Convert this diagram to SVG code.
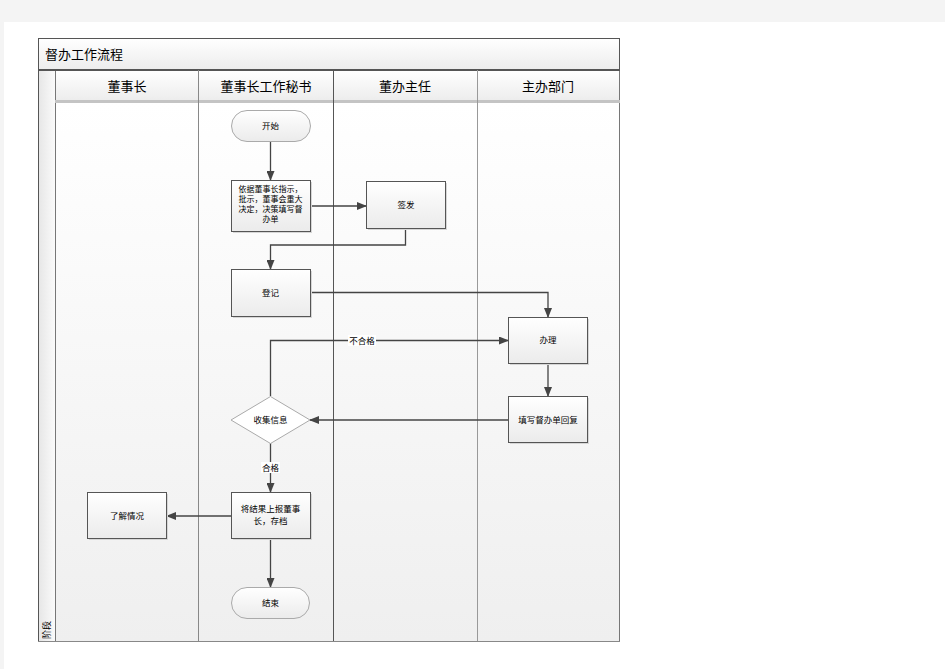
<svg xmlns="http://www.w3.org/2000/svg" width="945" height="669" viewBox="0 0 945 669">
<defs>
<linearGradient id="gLane" x1="0" y1="0" x2="0" y2="1"><stop offset="0" stop-color="#ffffff"/><stop offset="1" stop-color="#efefef"/></linearGradient>
<linearGradient id="gHead" x1="0" y1="0" x2="0" y2="1"><stop offset="0" stop-color="#ffffff"/><stop offset="1" stop-color="#ececec"/></linearGradient>
<linearGradient id="gStrip" x1="0" y1="0" x2="1" y2="0"><stop offset="0" stop-color="#e6e6e6"/><stop offset="1" stop-color="#fbfbfb"/></linearGradient>
<linearGradient id="gNode" x1="0" y1="0" x2="0" y2="1"><stop offset="0" stop-color="#ffffff"/><stop offset="1" stop-color="#ebebeb"/></linearGradient>
<marker id="arr" markerWidth="10" markerHeight="8" refX="9" refY="4" orient="auto" markerUnits="userSpaceOnUse"><path d="M0,0 L10,4 L0,8 Z" fill="#444"/></marker>
</defs>
<style>
text{font-family:"Noto Sans CJK SC","Liberation Sans",sans-serif;fill:#000}
.h{font-size:13px;text-anchor:middle}
.t{font-size:8.5px;text-anchor:middle}
.t2{font-size:8px;text-anchor:middle}
.n{fill:url(#gNode);stroke:#555;stroke-width:1}
.term{fill:url(#gNode);stroke:#aaa;stroke-width:1}
.sh{fill:#d6d6d6}
.c{fill:none;stroke:#444;stroke-width:1.3;marker-end:url(#arr)}
.lab{font-size:8.5px;text-anchor:middle}
</style>
<rect x="0" y="0" width="945" height="669" fill="#f4f4f4"/>
<rect x="4" y="22" width="941" height="647" fill="#ffffff"/>
<g id="pool">
<rect x="38.5" y="38.5" width="581" height="32" fill="url(#gHead)" stroke="#555"/>
<text x="45" y="59" style="font-size:13px">督办工作流程</text>
<rect x="38.5" y="70.5" width="17" height="571" fill="url(#gStrip)" stroke="#555"/>
<rect x="55.5" y="70.5" width="564" height="31" fill="url(#gHead)" stroke="#777"/>
<rect x="55.5" y="102.5" width="564" height="539" fill="url(#gLane)" stroke="#777"/>
<line x1="38" y1="70" x2="620" y2="70" stroke="#555" stroke-width="2"/>
<line x1="55" y1="101.5" x2="620" y2="101.5" stroke="#c4c4c4" stroke-width="3"/>
<line x1="198.5" y1="70" x2="198.5" y2="642" stroke="#888"/>
<line x1="333.5" y1="70" x2="333.5" y2="642" stroke="#555"/>
<line x1="477.5" y1="70" x2="477.5" y2="642" stroke="#999"/>
<line x1="38" y1="641.5" x2="620" y2="641.5" stroke="#888"/>
<text class="h" x="127" y="91">董事长</text>
<text class="h" x="266" y="91">董事长工作秘书</text>
<text class="h" x="405" y="91">董办主任</text>
<text class="h" x="548" y="91">主办部门</text>
<text transform="translate(50,639) rotate(-90)" style="font-size:9px">阶段</text>
</g>
<g id="connectors">
<line class="c" x1="270.5" y1="142" x2="270.5" y2="180"/>
<line class="c" x1="311" y1="206" x2="366" y2="206"/>
<polyline class="c" points="405.5,229 405.5,245 270.5,245 270.5,269"/>
<polyline class="c" points="311,292.5 548,292.5 548,317"/>
<line class="c" x1="548" y1="364" x2="548" y2="396"/>
<line class="c" x1="508" y1="420" x2="310" y2="420"/>
<polyline class="c" points="270.5,396 270.5,340.5 508,340.5"/>
<line class="c" x1="270.5" y1="443" x2="270.5" y2="492"/>
<line class="c" x1="231" y1="516" x2="167" y2="516"/>
<line class="c" x1="270.5" y1="539" x2="270.5" y2="587"/>
<rect x="348" y="335" width="28" height="11" fill="#ffffff"/>
<text class="lab" x="362" y="344">不合格</text>
<rect x="261" y="462" width="19" height="11" fill="#ffffff"/>
<text class="lab" x="270.5" y="471">合格</text>
</g>
<g id="n_start"><rect class="term" x="231.5" y="110.5" width="79" height="31" rx="15.5"/><text class="t" x="270.5" y="129">开始</text></g>
<g id="n_fill"><rect class="sh" x="233" y="182" width="79" height="51"/><rect class="n" x="231.5" y="180.5" width="79" height="51"/>
<text class="t2" x="270.5" y="191.5">依据董事长指示，</text><text class="t2" x="270.5" y="201.5">批示，董事会重大</text><text class="t2" x="270.5" y="211.5">决定，决策填写督</text><text class="t2" x="270.5" y="221.5">办单</text></g>
<g id="n_sign"><rect class="sh" x="368" y="183" width="79" height="47"/><rect class="n" x="366.5" y="181.5" width="79" height="47"/><text class="t" x="406" y="208">签发</text></g>
<g id="n_reg"><rect class="sh" x="233" y="271" width="79" height="47"/><rect class="n" x="231.5" y="269.5" width="79" height="47"/><text class="t" x="270.5" y="296">登记</text></g>
<g id="n_do"><rect class="sh" x="510" y="319" width="79" height="46"/><rect class="n" x="508.5" y="317.5" width="79" height="46"/><text class="t" x="548" y="343">办理</text></g>
<g id="n_reply"><rect class="sh" x="510" y="398" width="79" height="46"/><rect class="n" x="508.5" y="396.5" width="79" height="46"/><text class="t" x="548" y="423">填写督办单回复</text></g>
<g id="n_collect"><polygon points="270.5,396.5 310,420 270.5,443.5 231,420" fill="#ffffff" stroke="#aaa"/><text class="t" x="270.5" y="423">收集信息</text></g>
<g id="n_report"><rect class="sh" x="233" y="494" width="79" height="46"/><rect class="n" x="231.5" y="492.5" width="79" height="46"/><text class="t" x="270.5" y="512">将结果上报董事</text><text class="t" x="270.5" y="524">长，存档</text></g>
<g id="n_know"><rect class="sh" x="89" y="494" width="79" height="46"/><rect class="n" x="87.5" y="492.5" width="79" height="46"/><text class="t" x="127" y="519">了解情况</text></g>
<g id="n_end"><rect class="term" x="231.5" y="587.5" width="78" height="31" rx="15.5"/><text class="t" x="270.5" y="606">结束</text></g>
</svg>
